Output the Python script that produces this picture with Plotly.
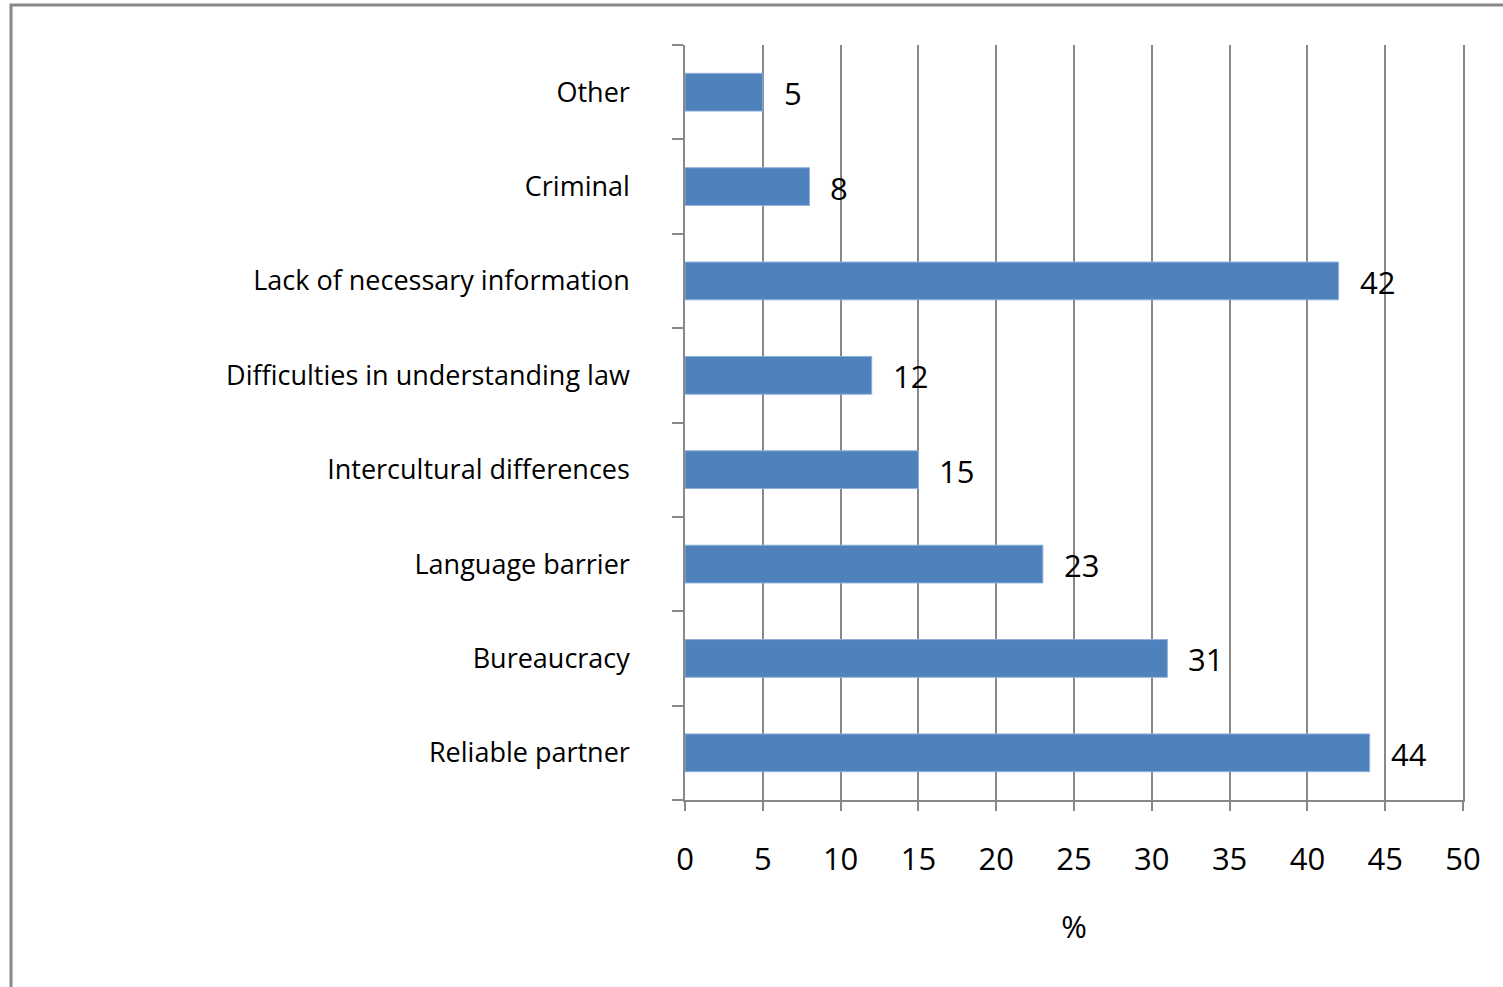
import plotly.graph_objects as go

categories = ["Reliable partner", "Bureaucracy", "Language barrier", "Intercultural differences",
              "Difficulties in understanding law", "Lack of necessary information", "Criminal", "Other"]
values = [44, 31, 23, 15, 12, 42, 8, 5]
x_ticks = list(range(0, 55, 5))

W, H = 1503, 987
L, R, T, B = 685, 40, 45, 187
pw, ph = W - L - R, H - T - B

FONT = "Open Sans"
FS_CAT = 27
FS_NUM = 31
pos = list(range(len(categories)))

fig = go.Figure()
fig.add_trace(go.Bar(
    x=values, y=pos, orientation="h",
    marker=dict(color="#4F81BD", line=dict(color="#8FB0DA", width=1)),
    width=0.4, hoverinfo="skip",
))

for p, v in zip(pos, values):
    fig.add_annotation(x=v, y=p, text=str(v), showarrow=False, xanchor="left",
                       xshift=19, yshift=-1, font=dict(family=FONT, size=FS_NUM, color="#000"))

# outer frame
fig.add_shape(type="rect", xref="paper", yref="paper",
              x0=(11 - L) / pw, x1=(W + 20 - L) / pw,
              y0=-(H + 20 - T - ph) / ph, y1=1 + (T - 5) / ph,
              line=dict(color="#888888", width=3), layer="below")

fig.update_layout(
    width=W, height=H,
    margin=dict(l=L, r=R, t=T, b=B),
    paper_bgcolor="white", plot_bgcolor="white",
    showlegend=False,
    font=dict(family=FONT, size=FS_CAT, color="#000"),
    xaxis=dict(range=[0, 50], tickvals=x_ticks, ticktext=[str(t) for t in x_ticks],
               showgrid=True, gridcolor="#888888", gridwidth=1.5,
               showline=True, linecolor="#888888", linewidth=1.5,
               ticks="outside", ticklen=9, tickcolor="#888888", tickwidth=1.5,
               ticklabelstandoff=22, zeroline=False,
               title=dict(text="%", standoff=38, font=dict(size=FS_NUM)),
               tickfont=dict(size=FS_NUM)),
    yaxis=dict(range=[-0.5, len(categories) - 0.5], tickvals=pos, ticktext=categories,
               showgrid=False, showline=True, mirror=True, linecolor="#888888", linewidth=1.5,
               zeroline=False, ticks="", ticklabelstandoff=48, tickfont=dict(size=FS_CAT),
               minor=dict(ticks="outside", ticklen=11, tickcolor="#888888", tickwidth=1.5,
                          tickvals=[p - 0.5 for p in pos] + [len(categories) - 0.5],
                          showgrid=False)),
)

fig.write_html("out.html", config={"displayModeBar": False},
               post_script="document.body.style.margin='0px';")
